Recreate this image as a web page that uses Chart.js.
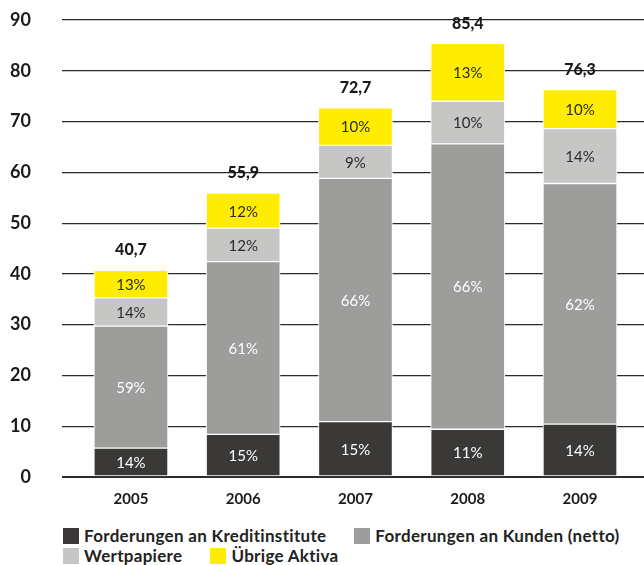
<!DOCTYPE html>
<html>
<head>
<meta charset="utf-8">
<script src="https://cdn.jsdelivr.net/npm/chart.js@4"></script>
<style>
    body { margin: 0; background: #fff; font-family: Lato, "DejaVu Sans", sans-serif; }
    #wrap { position: relative; width: 644px; height: 515px; }
    #legend {
        display: flex; flex-wrap: wrap; column-gap: 28px; row-gap: 2px;
        width: 580px; padding-left: 63px; margin-top: 12px;
        font-size: 17px; font-weight: bold; letter-spacing: 0.3px; color: #222; line-height: 18px;
    }
    .item { display: flex; align-items: center; }
    .box { width: 16px; height: 16px; margin-right: 5px; }
</style>
</head>
<body>
<div id="wrap"><canvas id="chart"></canvas></div>
<div id="legend"></div>
<script>
const years = ['2005', '2006', '2007', '2008', '2009'];
const totals = ['40,7', '55,9', '72,7', '85,4', '76,3'];

const seriesNames = [
    'Forderungen an Kreditinstitute',
    'Forderungen an Kunden (netto)',
    'Wertpapiere',
    'Übrige Aktiva'
];
const seriesColors = ['#3b3937', '#9d9d9c', '#c6c7c5', '#ffec00'];
const labelColors = ['#ffffff', '#ffffff', '#2b2b2b', '#2b2b2b'];

// segment heights
const kreditinstitute = [5.7, 8.4, 10.9, 9.4, 10.4];
const kunden = [24.0, 34.0, 47.9, 56.2, 47.4];
const wertpapiere = [5.6, 6.6, 6.5, 8.4, 10.8];
const uebrige = [5.4, 6.9, 7.4, 11.4, 7.7];

const pctKredit = ['14%', '15%', '15%', '11%', '14%'];
const pctKunden = ['59%', '61%', '66%', '66%', '62%'];
const pctWert = ['14%', '12%', '9%', '10%', '14%'];
const pctUebrige = ['13%', '12%', '10%', '13%', '10%'];

const seriesValues = [kreditinstitute, kunden, wertpapiere, uebrige];
const seriesPct = [pctKredit, pctKunden, pctWert, pctUebrige];

const yTicks = [0, 10, 20, 30, 40, 50, 60, 70, 80, 90];

// percentage inside each segment, total on top of each bar
const labelPlugin = {
    id: 'labels',
    afterDatasetsDraw(chart) {
        const ctx = chart.ctx;
        ctx.save();
        ctx.textAlign = 'center';
        ctx.textBaseline = 'middle';
        ctx.font = '15px Lato, "DejaVu Sans", sans-serif';
        chart.data.datasets.forEach((ds, di) => {
            const meta = chart.getDatasetMeta(di);
            ctx.fillStyle = labelColors[di];
            meta.data.forEach((bar, i) => {
                ctx.fillText(seriesPct[di][i], bar.x, (bar.y + bar.base) / 2 + 1);
            });
        });
        const top = chart.getDatasetMeta(chart.data.datasets.length - 1);
        ctx.fillStyle = '#1a1a1a';
        ctx.font = '900 16px Lato, "DejaVu Sans", sans-serif';
        top.data.forEach((bar, i) => {
            ctx.fillText(totals[i], bar.x, bar.y - 20);
        });
        ctx.restore();
    }
};

const ctx = document.getElementById('chart').getContext('2d');
const chart = new Chart(ctx, {
    type: 'bar',
    data: {
        datasets: seriesNames.map((name, s) => ({
            label: name,
            data: seriesValues[s].map((v, i) => ({ x: i, y: v })),
            backgroundColor: seriesColors[s],
            borderColor: '#ffffff',
            borderWidth: 1,
            borderSkipped: false,
            barThickness: 74
        }))
    },
    options: {
        responsive: true,
        maintainAspectRatio: false,
        animation: false,
        layout: { padding: { top: 20, right: 0, bottom: 0, left: 0 } },
        plugins: {
            legend: { display: false },
            tooltip: { enabled: false }
        },
        scales: {
            x: {
                type: 'linear',
                stacked: true,
                offset: false,
                min: -0.614,
                max: 4.57,
                afterBuildTicks: axis => { axis.ticks = years.map((_, i) => ({ value: i })); },
                afterFit: axis => { axis.height = 38; },
                grid: { display: false, drawTicks: false },
                border: { display: false },
                ticks: {
                    padding: 13,
                    maxRotation: 0,
                    autoSkip: false,
                    color: '#1a1a1a',
                    font: { family: 'Lato, "DejaVu Sans", sans-serif', size: 15, weight: 'bold' },
                    callback: v => years[v]
                }
            },
            y: {
                stacked: true,
                min: 0,
                max: 90,
                afterBuildTicks: axis => { axis.ticks = yTicks.map(v => ({ value: v })); },
                afterFit: axis => {
                    axis.width = 62;
                    axis.paddingTop = 0;
                    axis.paddingBottom = 0;
                },
                border: { display: false },
                grid: {
                    drawTicks: false,
                    color: '#2a2a2a',
                    lineWidth: c => (c.tick && c.tick.value === 0 ? 2 : 1.2)
                },
                ticks: {
                    padding: 31,
                    color: '#1a1a1a',
                    font: { family: 'Lato, "DejaVu Sans", sans-serif', size: 18, weight: 'bold' }
                }
            }
        }
    },
    plugins: [labelPlugin]
});

// legend below the chart
const legend = document.getElementById('legend');
seriesNames.forEach((name, s) => {
    const item = document.createElement('div');
    item.className = 'item';
    item.innerHTML = '<span class="box" style="background:' + seriesColors[s] + '"></span>' + name;
    legend.appendChild(item);
});
</script>
</body>
</html>
